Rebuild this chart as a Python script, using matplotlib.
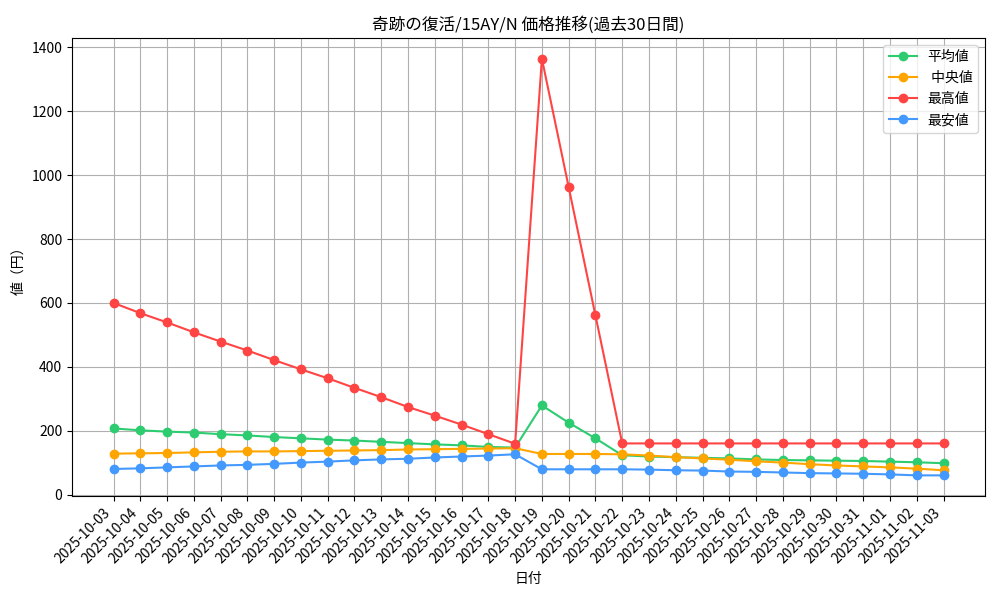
import matplotlib
matplotlib.use("Agg")
import matplotlib.pyplot as plt

plt.rcParams['font.family'] = ['Noto Sans CJK JP', 'DejaVu Sans']

# 日付 (2025-10-03 〜 2025-11-03)
dates = ["2025-10-03", "2025-10-04", "2025-10-05", "2025-10-06", "2025-10-07",
         "2025-10-08", "2025-10-09", "2025-10-10", "2025-10-11", "2025-10-12",
         "2025-10-13", "2025-10-14", "2025-10-15", "2025-10-16", "2025-10-17",
         "2025-10-18", "2025-10-19", "2025-10-20", "2025-10-21", "2025-10-22",
         "2025-10-23", "2025-10-24", "2025-10-25", "2025-10-26", "2025-10-27",
         "2025-10-28", "2025-10-29", "2025-10-30", "2025-10-31", "2025-11-01",
         "2025-11-02", "2025-11-03"]

avg_price = [207, 201, 197, 194, 189, 185, 180, 176, 172, 169, 165, 161, 157, 154, 149, 147,
             279, 225, 176, 123, 119, 117, 115, 113, 110, 108, 107, 106, 105, 103, 101, 98]
median_price = [128, 129, 130, 132, 134, 135, 135, 136, 137, 138, 139, 141, 142, 143, 144, 145,
                127, 127, 127, 126, 122, 117, 113, 109, 104, 100, 95, 91, 88, 85, 81, 76]
max_price = [600, 568, 539, 508, 479, 451, 421, 392, 364, 334, 305, 274, 247, 219, 189, 159,
             1365, 963, 561, 160, 160, 160, 160, 160, 160, 160, 160, 160, 160, 160, 160, 160]
min_price = [80, 82, 85, 88, 91, 93, 96, 100, 103, 107, 110, 112, 116, 119, 122, 126,
             79, 79, 79, 79, 78, 76, 75, 72, 71, 69, 67, 66, 65, 63, 60, 60]

xs = list(range(len(dates)))

fig, ax = plt.subplots(figsize=(10, 6), dpi=100)
ax.plot(xs, avg_price, marker='o', color='#2ecc71', linewidth=1.5, markersize=6, label='平均値')
ax.plot(xs, median_price, marker='o', color='#ffa500', linewidth=1.5, markersize=6, label=' 中央値')
ax.plot(xs, max_price, marker='o', color='#ff4444', linewidth=1.5, markersize=6, label='最高値')
ax.plot(xs, min_price, marker='o', color='#4499ff', linewidth=1.5, markersize=6, label='最安値')

ax.set_title('奇跡の復活/15AY/N 価格推移(過去30日間)', fontsize=12)
ax.set_xlabel('日付')
ax.set_ylabel('値（円）')
ax.set_xticks(xs)
ax.set_xticklabels(dates, rotation=45, ha='right')
ax.grid(True)
ax.legend(loc='upper right')

fig.subplots_adjust(left=0.072, right=0.985, top=0.937, bottom=0.173)
fig.savefig('out.png')
